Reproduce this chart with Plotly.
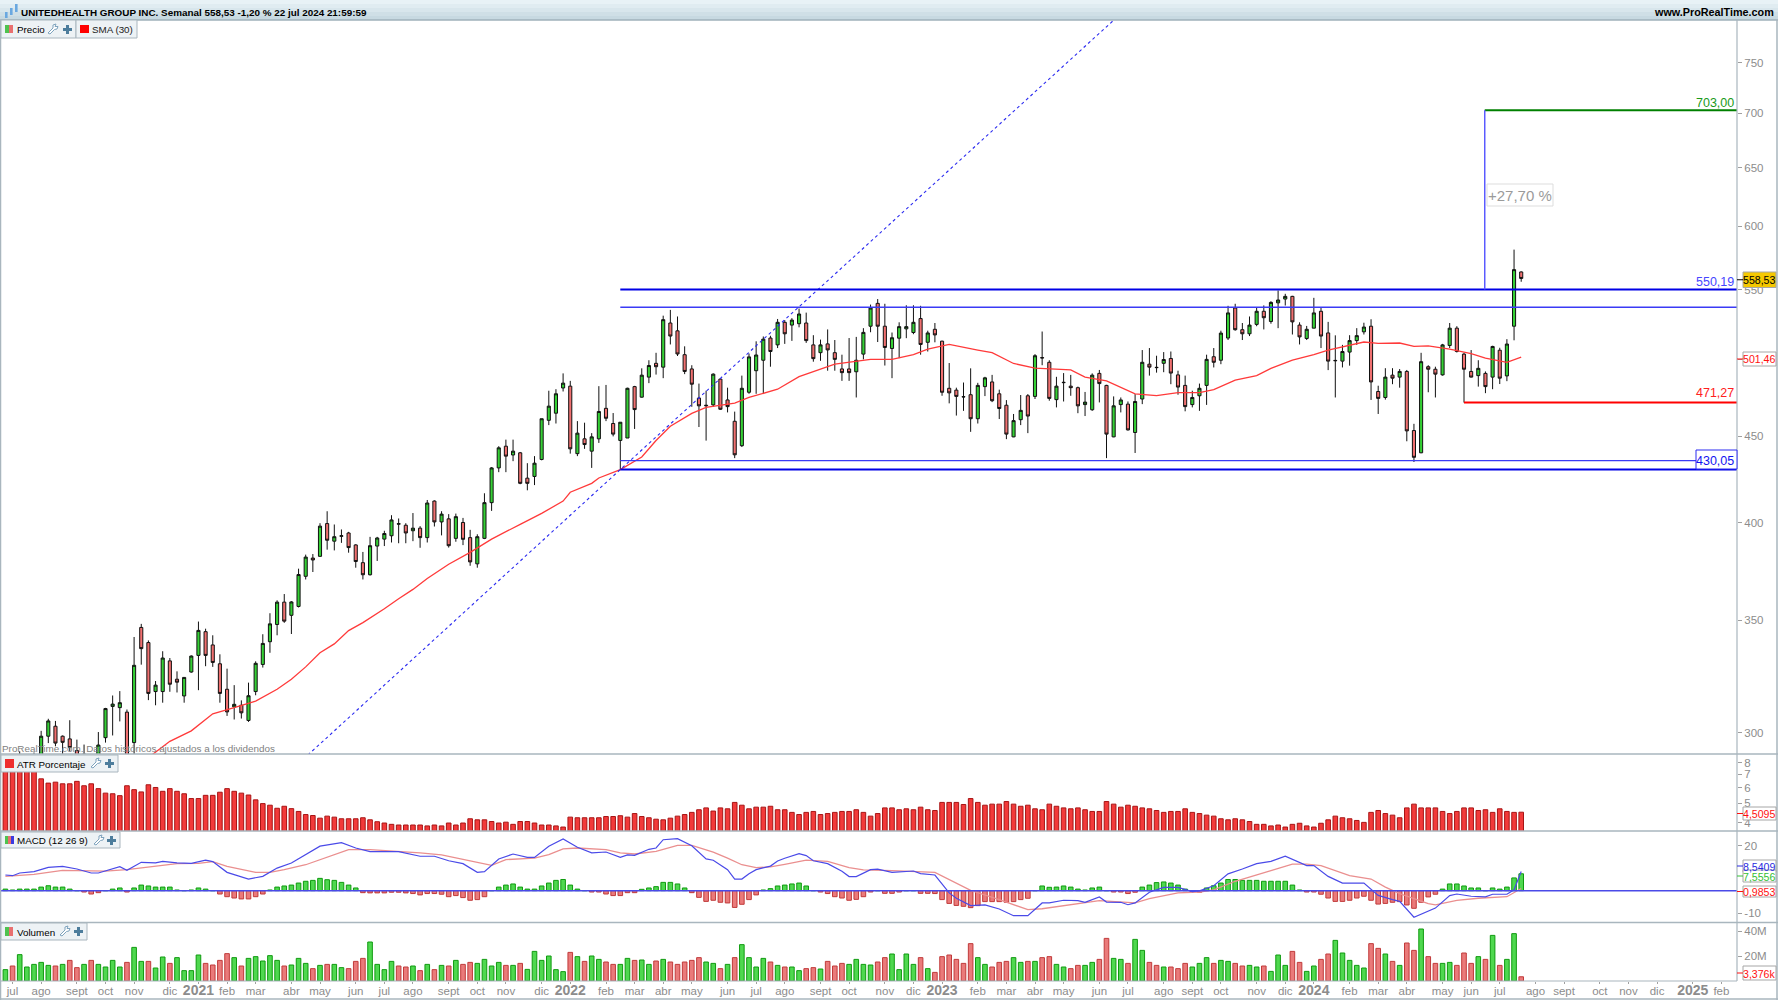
import plotly.graph_objects as go
from datetime import datetime, timedelta
import math

W, H = 1778, 1000
FONT = "Liberation Sans"

# ---- weekly OHLC (USD), first bar week of 29 Jun 2020, last 22 Jul 2024 ----
opens = [284,286,287,286,287,288,298.6,302.7,298.6,297.5,
 292.8,288,287,288,298,311,310.5,308.6,296,346.5,
 339.4,317.4,317.4,331,322.8,315.5,326,333.5,344.5,338.3,
 329.7,318.4,310.8,311.5,305.1,317.4,329.4,339.8,347.9,358.7,
 352.3,356.6,371.6,381,381.9,399.4,389.9,392.5,394.3,387.9,
 378.6,372.4,387.3,391,392.8,399.1,398.5,395.5,396.9,391.8,
 411.9,400.3,402,391.4,400,391.8,378,391.4,411,431,
 444,438.7,440,425,426,436,460,464.5,480.8,482,
 439.5,448.5,441,448.5,467.6,458,447.5,449,481.7,474.8,
 488,497.3,494.7,525.5,519.9,503.2,493.5,474.2,469.6,469.8,
 486.7,473,459.4,444.3,478,492.3,499.4,514.8,510,526,
 524,525,525.5,510,504.6,510.7,504.6,493.5,493.5,491.6,
 503.6,523.2,539.8,523.2,507.5,514.7,521.3,518.7,528.7,511.8,
 521,512.6,480.6,479.4,475.1,476.4,461,481.7,484.8,477,
 469.6,449.7,460.4,475.7,475.3,501.2,498,473.2,484.3,482,
 481,470,466.7,490.5,482.5,449.7,470,470.3,452.4,473.6,
 496.7,494.6,497.3,500.6,489.5,482.5,470,475.7,482.5,501.8,
 499.4,514.8,536.4,520.7,517.8,524.5,534,526.6,540.2,543,
 545,524,514.5,521.8,534,518.4,499.3,498.8,505,513,
 519.2,523.2,478.5,474.6,489.3,488,491.8,453.6,440,495,
 493.3,489.5,509.6,521.8,503.6,491.8,489,490.5,488,506.3,
 488.8,523.2,563.5]
highs = [287,288,292.5,289,292,300.8,305.8,304.9,298.9,305.2,
 297.2,295.2,289,300.3,310.4,315.7,317.6,309.7,342,348.2,
 340.4,322,335.4,332.3,326.3,323.6,333.5,349.3,345.9,342.8,
 334,327.5,320.2,313.6,321.3,330.8,343.3,353.3,359.6,362.7,
 359.2,375.5,382.8,383.1,399.6,406.2,398.9,396.2,394.9,388.3,
 384.2,392.2,392.2,395.5,404,402.2,399.6,405.2,398,412.5,
 412.3,406.2,404.6,404.9,402.5,396,393.6,416.3,431.5,444,
 448,448,440.5,433.8,438,461,479,480,490.5,485.5,
 459.5,458.5,452,482,482.8,464.6,458.8,481,482.2,493.9,
 499.4,504.5,530.8,535,530.2,509,496,483.7,479,490.5,
 487,481,465.5,489,504,512.5,515.9,516.4,528.4,527.6,
 529,536,533,516.8,513.7,520.9,513.4,503.2,514.8,515.6,
 521.8,538.9,543,539.5,518.7,526,538.4,538.4,538,520,
 525.5,512.9,497.5,481,484.4,493.9,484.2,488.2,489.5,479.7,
 472.9,464,476.2,476.8,503.6,519.4,499.4,488.2,490.7,489.5,
 481.7,478.2,490.5,492.8,482.9,475.3,474.6,472,476.8,506.4,
 507.8,502.5,505,505.4,492.3,489,479,483.7,503.2,507.8,
 520,538,539.5,525.5,530.2,536.4,538.3,541.4,549.4,546.9,
 545.4,526,523.4,543.9,537,526.3,516.7,510,516.8,521.8,
 525.7,528.2,482.3,494,494,493.4,492.8,457.8,504.5,496,
 495,510.7,525.5,523.2,504.5,506.4,499.4,491.8,509.4,508,
 514,581,564]
lows = [281,283,284,284,285,286,295.8,294.5,290.8,292.4,
 287,286,283,285,296,298.9,304.7,282,291,329.3,
 313.7,311.5,312.6,317.3,317,312.6,325.7,318,328.6,328.3,
 312.6,307,305.5,305.9,304.5,315.8,328,334.7,342.8,348.7,
 343.4,356.1,370,373.8,381.7,385.4,385,389,383.8,376,
 370,372,379.5,387.3,389.2,388.8,388.8,389.9,386.4,389.2,
 397.8,393,386.5,389.6,387.8,377,376,391,406.4,428.5,
 428.5,435,421.5,418,421,435.5,457,458,478.5,439.5,
 438,442.4,431,446,459.5,450,430,449,454.6,474.5,
 484,489.7,487.3,510.3,502.3,490,468.6,455.8,447.4,468.6,
 466.6,465,436.8,443.5,477,477,477,495,507.8,510.7,
 512.8,522.4,511.4,498.4,499,492.3,492.3,485.5,485.5,474.6,
 500,518.9,512,495.8,487.3,500.8,514.7,517.5,503.2,505.4,
 511.8,475.7,470.8,463,466,452.8,458,475.5,471.6,460.8,
 448.3,449.5,457,452,473.6,496,472.5,468.2,472,475.7,
 464.5,462.7,466,471.4,436.8,449.5,465,453.6,439.9,470.3,
 489,491,491.3,483.3,476.4,465.7,468.2,466,469.8,494.5,
 496.7,513.4,520,513.4,516.2,523.2,520.9,525,521.8,538.2,
 517.3,510.3,513.4,521.8,507.8,492.7,474.6,494.5,495.7,510,
 517.3,473,464,473.2,483.3,481,447,434.5,439.8,478,
 474.6,489,507.8,504.7,471.3,487.8,481.7,477.4,480,483.4,
 485.3,513.2,556]
closes = [286,284,286,287,288,298.6,304.9,295.8,296.1,294,
 289.5,291.4,285,295,310.1,312,312.6,287,329,336.6,
 316.6,320.2,332.3,320.6,321.5,323.6,333.2,345.1,333.5,330.3,
 316.6,308.7,311.9,308.3,315.6,329.9,339,348.2,358.7,349.5,
 358.8,372.5,381.5,380,398,390.4,392.3,392.8,386.5,379.2,
 372.4,387.5,391.6,394,401.4,399.3,394.3,396.9,391.8,410.8,
 400.3,404.6,387.5,403.2,390.9,379,392.3,411,431,443,
 438,441,422,422,433.8,461,469,477,484,442.4,
 452,445,449.7,465.6,461.3,451.4,458.8,480.6,466.8,489.3,
 495.8,495,527.9,516.2,503.7,491.8,483.3,469.2,469.3,490,
 467,468.7,438.8,480.6,501.7,503,514,505.4,526,517.8,
 527.6,532,513,500.5,510,506.5,500,491,491,499.4,
 518.8,536.4,523.2,508.2,515,522.9,522.9,526,510.3,518.4,
 517,478,477.6,475.3,475,461,482.5,487.5,472.5,467.5,
 451.4,459.8,466.3,462.7,502.5,501,474,482,484.5,481,
 469.2,471.6,489.3,483.7,451.4,469.2,473,454,472,498,
 494.7,494.4,499.9,490.7,481.4,468.7,474.6,480.6,500,498,
 518.3,532.8,520.7,517.8,524,534,529.3,540.5,542.3,545,
 526.3,515.6,521,532.8,516.2,498.8,499.1,505.4,513,516.5,
 522.6,484.8,474,488,487.3,491.8,453.4,437.3,498.4,493.3,
 490,510,521.8,505.4,493.3,488,493.9,481.7,508.9,487.3,
 510.6,565.3,558.53]

# ---- SMA(30), read at line vertices (bar number, price) ----
sma_bar = [20,23,26,29,32,35,38,40,42,44,46,48,50,51,53,55,57,59,62,65,68,72,75,78,79,82,83,86,89,91,93,96,98,102,104,108,111,116,121,124,127,129,132,136,138,141,144,149,151,154,156,158,161,164,167,169,172,175,177,180,183,185,190,192,195,197,199,202,205,207,210,212]
sma_val = [290,296.5,300.8,307.9,310.5,313.3,318.4,322.8,328.3,334.7,338.8,345,348.8,351,355.5,360.4,365,370.5,377.8,384,391,399,405,411.9,416.9,422,425.1,430,437.5,447.5,456.3,464.4,468.2,471,474.6,480,488.3,496.7,500,500,503.2,507,510.3,506.4,504.6,497.2,494,492.8,488,485.5,481,477,475.8,477.8,477.8,479.7,486,489,493.9,499.4,503.2,506.4,512,511,511.3,509,509.3,507,504,500.8,498,501.46]

# ---- ATR Porcentaje ----
atr = [7.6,7.6,7.6,7.6,7.6,6.63,6.31,6.38,6.26,6.26,
 6.44,6.12,6.26,5.92,5.62,5.58,5.46,6.12,5.85,5.70,
 6.19,6.0,5.74,5.92,5.74,5.58,5.28,5.28,5.48,5.48,
 5.68,5.92,5.74,5.62,5.5,5.2,4.98,4.89,4.72,4.83,
 4.70,4.55,4.39,4.34,4.21,4.31,4.26,4.18,4.18,4.18,
 4.23,4.13,4.04,3.98,3.92,3.89,3.89,3.89,3.89,3.85,
 3.89,3.85,3.98,3.89,3.98,4.18,4.13,4.13,4.05,3.98,
 4.02,3.92,4.05,4.05,3.98,3.89,3.89,3.85,3.80,4.26,
 4.23,4.23,4.23,4.23,4.29,4.29,4.33,4.26,4.44,4.29,
 4.23,4.16,4.13,4.21,4.31,4.39,4.5,4.64,4.74,4.57,
 4.74,4.69,5.05,4.89,4.69,4.78,4.78,4.83,4.64,4.64,
 4.5,4.39,4.5,4.55,4.39,4.44,4.5,4.55,4.55,4.64,
 4.5,4.31,4.44,4.74,4.74,4.64,4.69,4.64,4.78,4.64,
 4.6,5.05,5.05,5.05,4.93,5.28,5.05,4.89,4.95,4.95,
 5.1,4.95,4.83,4.89,4.69,4.64,4.95,4.83,4.74,4.69,
 4.74,4.64,4.55,4.55,5.1,4.95,4.78,4.89,4.83,4.74,
 4.69,4.6,4.5,4.55,4.55,4.69,4.5,4.44,4.36,4.31,
 4.18,4.13,4.18,4.13,4.05,3.92,3.92,3.85,3.89,3.8,
 3.92,3.97,3.85,3.8,3.97,4.13,4.31,4.23,4.18,4.1,
 4.01,4.5,4.6,4.44,4.36,4.23,4.74,4.95,4.74,4.74,
 4.74,4.55,4.44,4.55,4.74,4.74,4.6,4.64,4.5,4.69,
 4.55,4.5,4.51]

# ---- MACD line, read at vertices ----
macd_bar = [0,1,2,4,6,8,10,12,13,16,17,19,21,22,24,26,28,29,31,34,36,38,40,42,44,47,49,51,55,58,60,62,64,66,67,69,71,73,74,76,78,80,82,84,86,87,88,90,91,92,94,96,98,99,101,102,103,104,105,107,108,109,111,112,113,115,117,118,119,121,122,124,127,128,130,132,133,135,137,139,141,143,145,146,148,150,151,153,154,156,157,158,160,162,164,166,167,169,171,173,175,177,179,182,183,185,187,190,192,194,195,197,199,200,202,203,205,207,208,210,211,212]
macd_val = [7,6.7,7.9,8.5,10.4,10.9,9.7,7.9,7.9,10.7,9.1,12.7,12.4,13.1,12.4,12.2,13.7,13,8.2,5.2,6.4,10.1,12.4,16.1,19.9,21.5,19.1,17.5,17.5,15.4,15.4,13.4,12.1,8.2,8.5,14.2,16.4,14.9,14.9,19.9,23.1,19.4,16.9,17.3,14.9,16,15.8,18.5,19.1,22.8,23.3,20.1,14.2,13.6,9.4,5.2,5.2,7.6,9.4,11,13.3,14.5,16.6,15.7,13.4,12.1,8.7,6.3,6.3,9.4,9.6,8.2,8.8,7.6,7,-1,-3.4,-6.7,-6.4,-8.2,-11.2,-11.2,-5.5,-5.5,-4.3,-4.5,-5.2,-2.8,-5.1,-5.2,-6.3,-5.5,-0.7,1.5,1.5,-0.4,-0.1,2.2,7.5,9.7,12.1,13.1,15.4,11.2,11.2,6.4,3.4,3.4,-2.1,-4,-4.8,-11.9,-9,-7.8,-2.2,-1.5,-2.5,-2.8,-1.6,-1.6,0.4,8.54]

# ---- signal line, read at vertices ----
sig_bar = [0,2,4,8,12,14,17,21,24,27,29,31,35,37,39,42,45,48,51,55,58,61,64,68,70,74,76,78,80,82,84,86,88,91,94,96,99,101,103,105,107,109,112,115,118,120,124,130,135,139,143,145,153,158,160,164,167,169,172,177,180,182,184,188,191,193,195,199,200,203,206,210,212]
sig_val = [6.4,7,7.3,9.1,8.7,8.7,9.4,10.9,12.1,12.2,13,10.9,8.2,8.2,9.4,11.6,15.1,18.4,18.4,17.6,16.9,16,13.9,11.3,13.9,14.6,16.1,18.7,19.1,18.7,18.4,16.9,16.4,17.6,20.3,20.3,17.2,14.6,11.6,10.3,10.6,11.8,13.7,13.1,10.3,9.3,9,8.2,0.1,-4,-8.5,-8.1,-4.5,-5.5,-3.6,-1,-0.6,0.4,4.2,9,11.9,11.9,11.2,6.7,5.2,1.6,-1.3,-5.8,-6.4,-4.3,-3.4,-2.7,0.99]

# ---- MACD histogram ----
hist = [0.7,0.3,0.7,0.7,0.7,1.6,2.2,1.6,1.6,0.7,
 0,-0.6,-1.5,-0.9,0,0.7,1.2,-0.6,1.2,2.5,
 2.1,1.6,1.6,1.6,0.3,0,0.3,1.2,0.7,0,
 -1.5,-2.7,-3.3,-3.7,-3.7,-2.7,-1.5,0.3,1.6,2.1,
 2.5,3.4,4.2,4.6,5.5,4.9,4.6,3.7,2.5,1.2,
 -0.9,-1,-1,-1,-0.7,-0.7,-1,-1.3,-1.9,-1.3,
 -1.3,-1.6,-2.7,-2.2,-3.1,-4.3,-4,-2.7,0,1.6,
 2.5,3,1.6,0.7,0.7,2.1,3.4,4.6,5,2.5,
 0.7,0,-0.6,-0.6,-1.5,-2.2,-2.2,-0.9,-0.9,0.6,
 1.2,1.8,3.7,3.7,3,1.2,-0.9,-3,-4.8,-4.3,
 -5.2,-5.5,-7.5,-6.1,-4,-1.9,0.3,0.9,2.1,2.5,
 3,3.4,2.1,0,-0.6,-1.3,-2.7,-3.3,-4.3,-3.9,
 -2.7,-0.6,0,-1.2,-1.2,-0.6,0,0,-1.2,-1.2,
 -1.3,-4,-5.7,-6.6,-7,-7.6,-6.7,-4.9,-4.9,-4.9,
 -5.2,-4.9,-4,-3.4,0,2.1,1.5,1.6,2.1,1.6,
 0.7,0.3,1.2,1.6,0,-0.6,-0.6,-1.3,-0.7,1.6,
 2.5,3.6,3.9,3.4,2.5,0.7,-0.4,-0.7,1.2,2.2,
 3.4,5,5,4.6,4.6,4.6,4.2,4.2,4.2,4.2,
 2.5,0.3,-0.6,-0.6,-1.6,-3.3,-4.8,-4.8,-4.3,-3.3,
 -2.5,-4.3,-6,-5.7,-5.2,-4.9,-6.4,-7.9,-5.2,-2.8,
 -1.6,0.7,3,3,2.1,1.2,1.2,0,1.2,0.7,
 1.6,5.7,7.56]

# ---- Volume (millions) ----
volume = [9.1,12,21.1,11.2,13.3,14.9,12.5,12,13.3,16.5,
 10.7,13.3,16.5,13.3,11.2,16.5,11.2,14.9,26.9,15.7,
 15.7,10.4,19.2,14.1,18.7,8.3,8.3,20.8,14.1,12.8,
 16.5,21.9,18.7,12,18.1,19.5,16,20.3,16.5,12,
 12.8,18.1,14.1,9.9,12.5,13.3,13.3,10.7,9.9,15.7,
 18.1,31.2,13.3,9.1,15.7,12,11.2,12,8.3,13.3,
 9.1,12.5,12,16.5,13.3,14.9,14.1,17.3,12,14.9,
 12.5,12.5,14.1,9.3,23.7,16.5,20,9.1,7.5,22.9,
 19.5,15.7,20,17.3,15.2,13.3,13.3,18.1,16.5,16.8,
 13.3,16,17.3,15.2,13.3,15.2,16.5,18.7,15.2,14.1,
 9.9,13.3,18.7,29.1,18.7,11.2,18.1,15.2,12.5,11.2,
 11.2,8.3,9.9,10.7,9.6,15.7,12,14.1,13.3,17.3,
 13.3,12.8,15.2,18.7,21.6,9.1,21.6,13.3,18.7,9.9,
 6.9,19.5,20.8,17.3,14.1,29.9,18.7,13.3,11.2,14.9,
 15.7,18.7,14.9,15.7,15.7,18.7,19.5,13.3,11.2,9.9,
 12.5,12.5,14.9,17.3,34.1,18.1,17.3,14.1,33.3,24.5,
 14.9,12.5,11.2,11.2,9.9,14.1,11.2,14.1,18.7,14.1,
 16.5,15.7,14.1,12,12.5,11.2,12,7.7,20.8,12.5,
 23.7,14.9,7.7,12,17.3,21.6,32.5,22.4,16.5,12.5,
 10.4,29.9,26.1,21.6,15.7,12.5,30.4,24.5,41.6,19.5,
 14.1,14.1,14.9,12.5,22.4,14.1,19.5,17.3,36.5,12.5,
 17.3,37.9,3.376]

# ---- Month ticks ----
tick_dates = ["2020-07-06","2020-08-03","2020-09-07","2020-10-05","2020-11-02","2020-12-07",
 "2021-01-04","2021-02-01","2021-03-01","2021-04-05","2021-05-03","2021-06-07","2021-07-05","2021-08-02","2021-09-06","2021-10-04","2021-11-01","2021-12-06",
 "2022-01-03","2022-02-07","2022-03-07","2022-04-04","2022-05-02","2022-06-06","2022-07-04","2022-08-01","2022-09-05","2022-10-03","2022-11-07","2022-12-05",
 "2023-01-02","2023-02-06","2023-03-06","2023-04-03","2023-05-01","2023-06-05","2023-07-03","2023-08-07","2023-09-04","2023-10-02","2023-11-06","2023-12-04",
 "2024-01-01","2024-02-05","2024-03-04","2024-04-01","2024-05-06","2024-06-03","2024-07-01","2024-08-05","2024-09-02","2024-10-07","2024-11-04","2024-12-02",
 "2025-01-06","2025-02-03"]
tick_months = ["jul","ago","sept","oct","nov","dic",
 "2021","feb","mar","abr","may","jun","jul","ago","sept","oct","nov","dic",
 "2022","feb","mar","abr","may","jun","jul","ago","sept","oct","nov","dic",
 "2023","feb","mar","abr","may","jun","jul","ago","sept","oct","nov","dic",
 "2024","feb","mar","abr","may","jun","jul","ago","sept","oct","nov","dic",
 "2025","feb"]

# ---- Drawn levels ----
level_res_hi, level_res_lo = 550.19, 537.0
level_sup_hi, level_sup_lo = 435.3, 430.05
level_target, level_stop = 703.00, 471.27
bar_levels_start, bar_stop_start, bar_target_start = 86, 204, 206.9
trend_bars, trend_prices = [42.3, 86, 155.05], [291.0, 430.05, 795.5]

n = len(closes)
assert all(len(a) == n for a in (opens, highs, lows, atr, hist, volume)), [len(a) for a in (opens, highs, lows, closes, atr, hist, volume)]
assert len(sma_bar) == len(sma_val) and len(macd_bar) == len(macd_val) and len(sig_bar) == len(sig_val)

start = datetime(2020, 6, 29)
def d(i):
    return start + timedelta(days=7 * i)
dates = [d(i) for i in range(n)]

def px(x): return x / W
def py(y): return 1 - y / H

BAR_W = 5.0 / 7.15 * 7 * 86400000 * 0.92
GREEN_F, GREEN_L = "#4fd84f", "#0f9a0f"
RED_F, RED_L = "#ea7a7a", "#c03a3a"

fig = go.Figure()
fig.add_trace(go.Candlestick(x=dates, open=opens, high=highs, low=lows, close=closes, xaxis="x", yaxis="y",
    increasing=dict(line=dict(color="#111111", width=1), fillcolor="#35d035"),
    decreasing=dict(line=dict(color="#111111", width=1), fillcolor="#f07070"),
    whiskerwidth=0, showlegend=False, hoverinfo="skip"))
fig.add_trace(go.Scatter(x=[d(i) for i in sma_bar], y=sma_val, mode="lines", yaxis="y",
    line=dict(color="#ff3a3a", width=1.3), hoverinfo="skip", showlegend=False))
fig.add_trace(go.Scatter(x=[d(i) for i in trend_bars], y=trend_prices, mode="lines", yaxis="y",
    line=dict(color="#2a2af0", width=1.1, dash="3px,3px"), hoverinfo="skip", showlegend=False))
right_edge = d((1737 - 5.4) / 7.15)
for lvl, width, col, b0 in [(level_res_hi, 2, "#0000e6", bar_levels_start), (level_res_lo, 1.4, "#3a3af5", bar_levels_start),
                            (level_sup_lo, 2, "#0000e6", bar_levels_start), (level_sup_hi, 1.4, "#3a3af5", bar_levels_start),
                            (level_target, 2, "#008000", bar_target_start), (level_stop, 2, "#ff0000", bar_stop_start)]:
    fig.add_trace(go.Scatter(x=[d(b0), right_edge], y=[lvl, lvl], mode="lines", yaxis="y",
        line=dict(color=col, width=width), hoverinfo="skip", showlegend=False))
fig.add_trace(go.Scatter(x=[d(bar_target_start), d(bar_target_start)], y=[level_res_hi, level_target], mode="lines", yaxis="y",
    line=dict(color="#5a5aff", width=1.5), hoverinfo="skip", showlegend=False))

fig.add_trace(go.Bar(x=dates, y=atr, yaxis="y2", width=BAR_W,
    marker=dict(color="#f23a3a", line=dict(color="#a81414", width=1)), hoverinfo="skip", showlegend=False))

fig.add_trace(go.Bar(x=dates, y=hist, yaxis="y3", width=BAR_W,
    marker=dict(color=[GREEN_F if v >= 0 else RED_F for v in hist],
                line=dict(color=[GREEN_L if v >= 0 else RED_L for v in hist], width=1)),
    hoverinfo="skip", showlegend=False))
fig.add_trace(go.Scatter(x=[d(i) for i in sig_bar], y=sig_val, mode="lines", yaxis="y3",
    line=dict(color="#ea8f8f", width=1.3), hoverinfo="skip", showlegend=False))
fig.add_trace(go.Scatter(x=[d(i) for i in macd_bar], y=macd_val, mode="lines", yaxis="y3",
    line=dict(color="#4a4ae8", width=1.2), hoverinfo="skip", showlegend=False))
fig.add_trace(go.Scatter(x=[d(-1), right_edge], y=[0, 0], mode="lines", yaxis="y3",
    line=dict(color="#4a4ae8", width=1.5), hoverinfo="skip", showlegend=False))

vol_up = [True] + [closes[i] >= closes[i - 1] for i in range(1, n)]
fig.add_trace(go.Bar(x=dates, y=volume, yaxis="y4", width=BAR_W,
    marker=dict(color=[GREEN_F if u else RED_F for u in vol_up],
                line=dict(color=[GREEN_L if u else RED_L for u in vol_up], width=1)),
    hoverinfo="skip", showlegend=False))

GREY = "#8c8c8c"
tick_text = [f'<span style="font-size:14px"><b>{t}</b></span>' if t.isdigit() else t for t in tick_months]
yax = dict(side="right", anchor="x", showgrid=False, zeroline=False, showline=False, ticks="outside", ticklen=4,
           tickcolor="#a0a0a0", tickfont=dict(family=FONT, size=11.5, color=GREY), tickmode="array")

# Price scale: log, 700 at y=113.4 and 731 px per natural-log unit
P_TOP = 700 * math.exp((113.4 - 20) / 731)
P_BOT = 700 * math.exp((113.4 - 754) / 731)

fig.update_layout(
    width=W, height=H, margin=dict(l=0, r=0, t=0, b=0), paper_bgcolor="white", plot_bgcolor="white",
    bargap=0.3, boxgap=0.38, showlegend=False, hovermode=False,
    font=dict(family=FONT),
    xaxis=dict(type="date", domain=[px(1), px(1737)], anchor="y4",
               range=[d(-4.4 / 7.15), right_edge], rangeslider=dict(visible=False),
               showgrid=False, zeroline=False, showline=False, ticks="outside", ticklen=2, tickcolor="#a0a0a0",
               tickmode="array", tickvals=tick_dates, ticktext=tick_text, tickangle=0, ticklabelstandoff=-3,
               tickfont=dict(family=FONT, size=11.5, color=GREY)),
    yaxis=dict(type="log", domain=[py(754), py(20)], range=[math.log10(P_BOT), math.log10(P_TOP)],
               tickvals=[300, 350, 400, 450, 500, 550, 600, 650, 700, 750],
               ticktext=["300", "350", "400", "450", "", "550", "600", "650", "700", "750"], **yax),
    yaxis2=dict(type="log", domain=[py(831), py(755)], range=[math.log10(3.63), math.log10(8.73)],
                tickvals=[4, 5, 6, 7, 8], ticktext=["4", "5", "6", "7", "8"], **yax),
    yaxis3=dict(domain=[py(922.5), py(831)], range=[-14.25, 26.7], tickvals=[-10, 20], ticktext=["-10", "20"], **yax),
    yaxis4=dict(domain=[py(981), py(922.5)], range=[0, 46.8], tickvals=[20, 40], ticktext=["20M", "40M"], **yax),
)

shapes, notes = [], []
def rect(x0, y0, x1, y1, fill, line=None, lw=1):
    shapes.append(dict(type="rect", xref="paper", yref="paper", x0=px(x0), x1=px(x1), y0=py(y0), y1=py(y1),
                       fillcolor=fill, line=dict(color=line or fill, width=lw if line else 0), layer="above"))
def hline(x0, x1, y, col="#a9b6be", lw=1.5):
    shapes.append(dict(type="line", xref="paper", yref="paper", x0=px(x0), x1=px(x1), y0=py(y), y1=py(y),
                       line=dict(color=col, width=lw), layer="above"))
def vline(x, y0, y1, col="#a9b6be", lw=1.5):
    shapes.append(dict(type="line", xref="paper", yref="paper", x0=px(x), x1=px(x), y0=py(y0), y1=py(y1),
                       line=dict(color=col, width=lw), layer="above"))
def text(x, y, s, col="#000000", size=11, anchor="left", **kw):
    ax = x - 2 if anchor == "left" else (x + 2 if anchor == "right" else x)
    notes.append(dict(xref="paper", yref="paper", x=px(ax), y=py(y), text=s, showarrow=False, xanchor=anchor, yanchor="middle",
                      font=dict(family=FONT, size=size, color=col), align=anchor, **kw))

# title bar
bands = ["#e8f2f6", "#e0ecf1", "#d8e6ec", "#cfdfe6", "#c7d9e1"]
for k, c in enumerate(bands):
    rect(0, k * 4, W, (k + 1) * 4, c)
hline(0, W, 20, "#9fb0ba", 1.5)
text(21, 12.5, "<b>UNITEDHEALTH GROUP INC.</b> <b>Semanal 558,53 -1,20 % 22 jul 2024 21:59:59</b>", size=9.9)
text(1774, 12.5, "<b>www.ProRealTime.com</b>", size=10.8, anchor="right")
for x0, y0, y1 in [(5, 12, 18), (10, 8, 15), (15, 4, 12)]:
    rect(x0, y0, x0 + 2.6, y1, "#6aa8e0")

# frames
hline(0, W, 754); hline(0, W, 831); hline(0, W, 922.5); hline(0, 1737, 981, "#a9b6be", 1.2); hline(0, W, 999)
vline(1737, 20, 981, "#a9b6be", 1.2); vline(0.5, 20, 1000); vline(1777, 20, 1000)

def wrench(x, y):
    shapes.append(dict(type="path", xref="paper", yref="paper", layer="above",
        path=f"M {px(x)},{py(y+9)} L {px(x+5)},{py(y+4)} L {px(x+5)},{py(y+1)} L {px(x+8)},{py(y)} L {px(x+7)},{py(y+2.5)} L {px(x+10)},{py(y+2.5)} L {px(x+9)},{py(y+5)} L {px(x+6.5)},{py(y+5.5)} L {px(x+2)},{py(y+10)} Z",
        line=dict(color="#7ea3bd", width=1), fillcolor="white"))
def plus(x, y):
    rect(x, y + 3, x + 9, y + 6, "#4d7d9c")
    rect(x + 3, y, x + 6, y + 9, "#4d7d9c")

def tag(x0, x1, y0, y1):
    rect(x0, y0, x1, y1, "#edf2f5", "#a9b6be", 1)

LBL = 9.8
# Precio / SMA tags
tag(1, 76, 20, 38)
rect(5, 25, 9, 33, "#4fc24f"); rect(9, 25, 13, 33, "#e97070")
text(17, 29.5, "Precio", size=LBL)
wrench(48, 24); plus(63, 25)
tag(76, 137, 20, 38)
rect(80, 25, 89, 33, "#ff0000")
text(92, 29.5, "SMA (30)", size=LBL, col="#222222")
# ATR
tag(1, 118, 755, 772)
rect(5, 759, 14, 768, "#ee2e2e")
text(17, 764, "ATR Porcentaje", size=LBL)
wrench(91, 758); plus(105, 759)
# MACD
tag(1, 120, 832, 848)
rect(5, 836, 8, 844, "#4fc24f"); rect(8, 836, 11, 844, "#e97070"); rect(11, 836, 14, 844, "#3a3ae0")
text(17, 840.5, "MACD (12 26 9)", size=LBL)
wrench(94, 835); plus(107, 836)
# Volumen
tag(1, 87, 923, 940)
rect(5, 927, 9, 936, "#4fc24f"); rect(9, 927, 13, 936, "#e97070")
text(17, 932, "Volumen", size=LBL)
wrench(60, 926); plus(74, 927)

text(2, 748, "ProRealTime.com. Datos históricos ajustados a los dividendos", col="#808080", size=9.9)

# level labels
text(1734, 282, "550,19", col="#4646ff", size=12.5, anchor="right")
text(1734, 393, "471,27", col="#ff2020", size=12.5, anchor="right")
text(1734, 103, "703,00", col="#1a9a1a", size=12.5, anchor="right")
rect(1696, 450, 1737, 469, "white", "#2a2af0", 1)
text(1734, 461, "430,05", col="#1414f0", size=12.5, anchor="right")
rect(1487, 184, 1553, 206, "white", "#dddddd", 1)
text(1520, 195.5, "+27,70 %", col="#9a9a9a", size=15, anchor="center")

# value boxes on the scale
def vbox(y0, y1, s, col, fill="white"):
    rect(1743, y0, 1776, y1, fill, "#a6a6a6", 1)
    text(1759.5, (y0 + y1) / 2 + 0.5, s, col=col, size=10.6, anchor="center")
    hline(1737, 1743, (y0 + y1) / 2, col, 1)
vbox(272, 287.5, "558,53", "#000000", "#f5c800")
vbox(352, 366, "501,46", "#ff1010")
vbox(807, 820, "4,5095", "#ff1010")
vbox(860, 872, "8,5409", "#2a2ae0")
vbox(870, 882, "7,5556", "#34c034")
vbox(886, 897, "0,9853", "#ff1010")
vbox(966, 980, "3,376k", "#ff1010")

fig.update_layout(shapes=shapes, annotations=notes)
fig.write_html("out.html", config=dict(displayModeBar=False, responsive=False),
               post_script="document.body.style.margin='0';document.documentElement.style.overflow='hidden';")
